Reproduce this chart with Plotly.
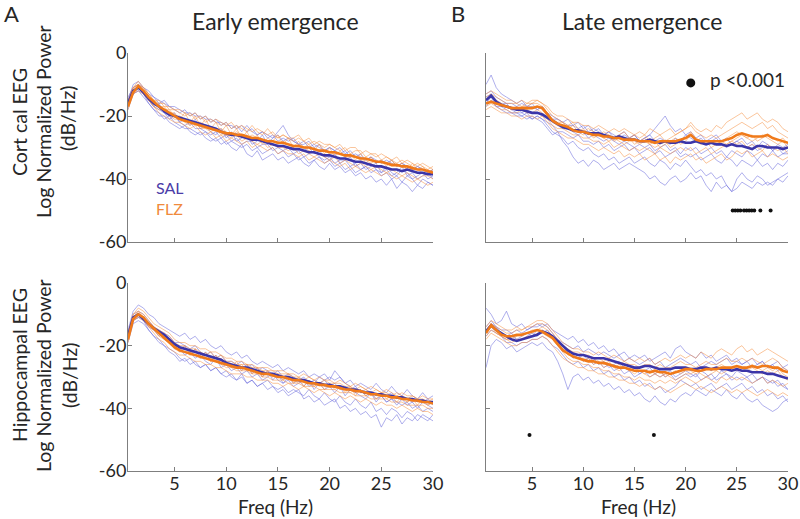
import plotly.graph_objects as go

# ---------------- data ----------------
FREQ = [0.5 * i for i in range(1, 61)]   # 0.5 ... 30 Hz

# Early emergence, cortical EEG (individual spectra, dB/Hz)
early_ctx_sal = [
    [-15,-11,-10,-11,-13,-14,-16,-15,-17,-18, -19,-18,-20,-19,-21,-20,-22,-21,-23,-22, -24,-23,-25,-23,-25,-26,-25,-27,-26,-28, -27,-28,-27,-29,-29,-28,-30,-29,-31,-30, -31,-30,-32,-31,-33,-32,-34,-33,-34,-35, -34,-35,-36,-35,-36,-37,-36,-37,-38,-37],
    [-18,-13,-12,-14,-16,-18,-20,-20,-22,-23, -24,-23,-25,-26,-25,-27,-28,-27,-29,-28, -30,-31,-29,-32,-33,-31,-34,-33,-32,-34, -33,-35,-34,-33,-35,-36,-34,-36,-37,-35, -37,-36,-38,-37,-39,-38,-40,-39,-41,-40, -42,-40,-43,-41,-42,-44,-42,-43,-41,-42],
    [-14,-11,-10,-12,-15,-17,-16,-19,-20,-19, -22,-21,-23,-21,-24,-23,-25,-26,-24,-27, -25,-28,-27,-26,-29,-28,-26,-29,-27,-25, -23,-26,-28,-29,-31,-30,-32,-31,-33,-34, -32,-35,-34,-33,-36,-35,-37,-36,-35,-38, -37,-39,-38,-36,-39,-38,-40,-39,-38,-40],
    [-17,-12,-11,-13,-15,-17,-18,-19,-21,-20, -22,-23,-22,-24,-24,-25,-26,-25,-27,-26, -28,-27,-29,-28,-28,-30,-29,-29,-31,-30, -31,-30,-32,-31,-33,-32,-31,-33,-34,-33, -35,-34,-34,-36,-35,-37,-36,-35,-37,-38, -36,-38,-39,-37,-38,-40,-39,-38,-40,-39],
    [-15,-10,-9,-11,-12,-14,-15,-16,-17,-17, -18,-19,-19,-20,-20,-21,-21,-22,-22,-23, -23,-24,-23,-25,-24,-26,-25,-26,-27,-26, -28,-27,-28,-29,-28,-30,-29,-30,-31,-30, -31,-32,-31,-33,-32,-33,-34,-33,-35,-34, -35,-34,-36,-35,-36,-37,-36,-37,-38,-37],
    [-16,-13,-12,-13,-16,-18,-19,-21,-20,-22, -23,-24,-24,-25,-26,-25,-27,-28,-27,-29, -28,-29,-30,-29,-31,-30,-32,-31,-30,-32, -31,-33,-32,-34,-33,-35,-34,-33,-35,-34, -36,-35,-37,-36,-38,-37,-36,-38,-37,-39, -38,-40,-39,-41,-39,-40,-42,-40,-41,-42],
]
early_ctx_flz = [
    [-15,-11,-9,-11,-13,-15,-15,-17,-17,-18, -18,-19,-20,-19,-21,-20,-22,-21,-22,-23, -22,-24,-23,-24,-25,-24,-25,-26,-25,-27, -26,-27,-27,-26,-28,-27,-29,-28,-29,-29, -30,-29,-31,-30,-30,-32,-31,-32,-33,-32, -33,-34,-33,-35,-34,-35,-36,-35,-36,-37],
    [-17,-13,-12,-13,-15,-17,-19,-20,-21,-22, -22,-23,-24,-23,-25,-26,-25,-27,-26,-28, -27,-28,-29,-28,-30,-29,-30,-31,-30,-32, -31,-32,-32,-33,-32,-34,-33,-34,-35,-34, -35,-36,-35,-37,-36,-37,-38,-37,-38,-39, -38,-39,-40,-39,-40,-41,-40,-41,-42,-41],
    [-16,-11,-10,-12,-14,-15,-17,-17,-19,-19, -21,-19,-22,-20,-23,-21,-24,-22,-25,-23, -26,-24,-27,-25,-28,-26,-29,-27,-28,-26, -29,-27,-30,-28,-30,-29,-31,-29,-32,-30, -33,-31,-33,-32,-34,-32,-35,-33,-35,-34, -36,-34,-36,-35,-37,-35,-37,-36,-38,-37],
    [-17,-12,-11,-12,-14,-16,-17,-18,-18,-20, -20,-21,-22,-22,-22,-23,-24,-24,-24,-25, -26,-25,-26,-27,-26,-27,-28,-28,-28,-29, -28,-29,-30,-29,-30,-31,-30,-31,-31,-32, -32,-32,-33,-33,-33,-34,-34,-35,-34,-35, -35,-36,-36,-36,-37,-37,-37,-38,-37,-38],
    [-16,-11,-10,-11,-13,-15,-16,-16,-18,-18, -19,-20,-19,-21,-20,-22,-21,-22,-23,-22, -24,-23,-24,-25,-23,-25,-26,-24,-26,-27, -26,-27,-28,-27,-28,-29,-28,-29,-30,-29, -30,-31,-30,-32,-31,-31,-33,-32,-32,-34, -33,-34,-35,-34,-35,-36,-35,-36,-37,-36],
    [-18,-12,-11,-13,-15,-17,-18,-18,-20,-21, -21,-22,-23,-22,-24,-24,-25,-24,-26,-26, -27,-26,-28,-27,-28,-29,-28,-30,-29,-30, -30,-31,-30,-32,-31,-32,-33,-32,-33,-34, -33,-35,-34,-35,-36,-35,-36,-37,-36,-37, -38,-37,-38,-39,-38,-39,-40,-39,-39,-40],
]
early_ctx_sal_mean = [
    -16, -12, -11, -12.5, -14.5, -16, -17, -18.5, -19.5, -20,
    -20.5, -21, -21.5, -22, -22.5, -23, -23.5, -24, -25, -25.5,
    -26, -26, -26.5, -27, -27.5, -27.5, -28, -28.5, -29, -29.5,
    -29.5, -30, -30.5, -30.5, -31, -31.5, -31.5, -32, -32.5, -32.5,
    -33, -33.5, -33.5, -34, -34.5, -34.5, -35, -35.5, -36, -36,
    -36.5, -37, -37, -37.5, -37, -37.5, -38, -38, -38.5, -38.5]
early_ctx_flz_mean = [
    -17, -12.5, -10.5, -12, -14, -15.5, -17, -18, -19, -20,
    -21, -21.5, -22, -22.5, -23, -23.5, -24, -24.5, -25, -25.5,
    -25.5, -26, -26, -26.5, -27, -27, -27.5, -28, -28, -28.5,
    -28.5, -29, -29.5, -29.5, -30, -30, -30.5, -31, -31, -31.5,
    -31.5, -32, -32.5, -32.5, -33, -33.5, -33.5, -34, -34.5, -34.5,
    -35, -35.5, -35.5, -36, -36, -36.5, -37, -37, -37.5, -38]

# Early emergence, hippocampal EEG
early_hip_sal = [
    [-15,-9,-7,-8,-10,-11,-13,-14,-15,-16, -17,-16,-18,-17,-19,-18,-20,-21,-20,-22, -23,-22,-24,-23,-25,-26,-25,-26,-27,-26, -28,-27,-28,-29,-28,-30,-29,-30,-31,-30, -31,-30,-32,-31,-33,-32,-33,-34,-32,-34, -35,-33,-35,-36,-34,-36,-37,-35,-37,-36],
    [-19,-13,-12,-13,-15,-17,-19,-20,-22,-23, -25,-24,-26,-25,-27,-26,-28,-27,-29,-28, -30,-31,-29,-32,-31,-33,-32,-34,-33,-35, -34,-36,-35,-34,-37,-36,-38,-37,-39,-38, -37,-40,-39,-41,-40,-42,-41,-43,-42,-46, -43,-44,-42,-45,-43,-44,-42,-43,-44,-42],
    [-17,-11,-10,-12,-14,-15,-17,-16,-19,-20, -22,-20,-23,-21,-24,-22,-25,-23,-26,-25, -27,-26,-28,-26,-29,-27,-30,-28,-31,-29, -32,-30,-32,-31,-33,-31,-34,-32,-34,-33, -35,-33,-36,-34,-35,-36,-37,-35,-38,-36, -38,-37,-39,-37,-39,-38,-40,-38,-39,-40],
    [-18,-12,-11,-12,-15,-17,-18,-20,-21,-22, -24,-25,-24,-26,-27,-26,-28,-27,-29,-30, -29,-31,-30,-32,-31,-33,-32,-31,-33,-34, -33,-35,-34,-35,-36,-34,-36,-37,-35,-37, -38,-36,-38,-39,-37,-39,-40,-38,-41,-40, -42,-40,-41,-43,-41,-42,-44,-42,-43,-44],
    [-16,-10,-9,-10,-12,-14,-15,-16,-17,-19, -19,-20,-21,-20,-22,-23,-22,-24,-23,-25, -25,-26,-25,-27,-26,-28,-27,-28,-29,-28, -30,-29,-30,-31,-30,-32,-31,-32,-31,-33, -32,-34,-33,-34,-33,-35,-34,-35,-36,-35, -36,-35,-37,-36,-37,-38,-37,-38,-37,-39],
    [-17,-12,-11,-11,-13,-15,-16,-18,-19,-21, -21,-23,-22,-24,-23,-25,-26,-24,-27,-26, -28,-27,-29,-28,-30,-29,-31,-30,-29,-31, -32,-31,-33,-32,-31,-33,-32,-30,-29,-31, -28,-30,-32,-33,-35,-34,-36,-35,-37,-36, -38,-37,-38,-39,-38,-40,-39,-41,-40,-41],
]
early_hip_flz = [
    [-16,-10,-8,-9,-11,-13,-14,-15,-16,-18, -19,-19,-20,-20,-21,-21,-22,-22,-23,-24, -24,-25,-25,-26,-26,-27,-27,-27,-28,-28, -28,-29,-29,-30,-29,-30,-31,-30,-31,-31, -32,-31,-32,-33,-32,-33,-34,-33,-34,-35, -34,-35,-36,-35,-36,-36,-37,-36,-37,-37],
    [-19,-12,-11,-12,-14,-16,-18,-19,-21,-22, -23,-23,-24,-25,-25,-26,-26,-27,-27,-28, -29,-29,-29,-30,-30,-31,-31,-31,-32,-32, -33,-32,-33,-34,-33,-34,-35,-34,-35,-36, -35,-36,-37,-36,-37,-38,-37,-38,-39,-38, -39,-39,-40,-39,-40,-41,-40,-41,-41,-42],
    [-17,-11,-9,-11,-13,-15,-16,-17,-18,-20, -21,-20,-23,-21,-24,-22,-25,-23,-26,-25, -27,-25,-28,-26,-29,-27,-30,-28,-30,-29, -31,-29,-32,-30,-33,-31,-33,-32,-34,-32, -34,-33,-35,-33,-36,-34,-36,-35,-37,-35, -37,-36,-38,-36,-38,-37,-39,-37,-39,-38],
    [-17,-10,-9,-10,-12,-14,-15,-16,-17,-19, -20,-20,-21,-21,-22,-23,-22,-24,-23,-25, -25,-26,-26,-26,-27,-27,-28,-28,-28,-29, -29,-29,-30,-30,-31,-30,-31,-32,-31,-32, -32,-32,-33,-33,-34,-33,-34,-35,-34,-35, -35,-36,-35,-36,-37,-36,-37,-37,-38,-37],
    [-18,-12,-10,-11,-14,-15,-17,-18,-19,-21, -22,-22,-23,-23,-24,-24,-25,-25,-26,-27, -27,-28,-28,-28,-29,-29,-30,-30,-31,-31, -31,-32,-32,-32,-33,-33,-33,-34,-34,-34, -34,-35,-35,-35,-36,-36,-36,-37,-37,-37, -37,-38,-38,-38,-39,-39,-39,-39,-40,-40],
    [-16,-11,-10,-11,-13,-14,-16,-17,-19,-19, -21,-21,-22,-23,-22,-24,-24,-25,-24,-26, -26,-27,-26,-28,-27,-29,-28,-29,-30,-29, -31,-30,-31,-32,-31,-32,-33,-32,-33,-33, -33,-34,-34,-35,-34,-35,-35,-36,-35,-36, -36,-37,-36,-37,-38,-37,-38,-38,-39,-38],
]
early_hip_sal_mean = [
    -17, -11, -10, -11.5, -13, -14.5, -15.5, -16.5, -18, -19.5,
    -20.5, -21, -21.5, -22, -22.5, -23, -23.5, -24, -24.5, -25.5,
    -26, -26.5, -27, -27, -27.5, -28, -28.5, -29, -29, -29.5,
    -30, -30, -30.5, -31, -31, -31.5, -32, -32, -32.5, -32.5,
    -33, -33, -33.5, -34, -34, -34.5, -35, -35, -35.5, -35.5,
    -36, -36, -36.5, -36.5, -37, -37, -37.5, -37.5, -38, -38]
early_hip_flz_mean = [
    -18, -11.5, -10, -11, -13, -14.5, -16, -17.5, -19, -20.5,
    -21.5, -22, -22.5, -23, -23.5, -24, -24.5, -25, -25.5, -26,
    -26.5, -27, -27, -27.5, -28, -28.5, -29, -29, -29.5, -30,
    -30, -30.5, -31, -31, -31.5, -32, -32, -32.5, -32.5, -33,
    -33, -33.5, -34, -34, -34.5, -34.5, -35, -35.5, -35.5, -36,
    -36, -36.5, -36.5, -37, -37, -37.5, -37.5, -38, -38, -38.5]

# Late emergence, cortical EEG
late_ctx_sal = [
    [-10,-7,-11,-13,-14,-15,-16,-15,-17,-16, -18,-17,-19,-20,-21,-22,-21,-23,-22,-24, -23,-25,-24,-26,-25,-27,-26,-25,-27,-26, -28,-27,-26,-24,-22,-20,-23,-25,-24,-26, -25,-27,-26,-28,-27,-26,-28,-27,-29,-28, -27,-29,-28,-30,-28,-29,-31,-29,-30,-29],
    [-16,-14,-17,-17,-18,-19,-19,-20,-21,-20, -21,-22,-24,-26,-25,-28,-30,-33,-35,-34, -36,-34,-35,-37,-36,-35,-37,-36,-35,-36, -37,-38,-40,-39,-41,-42,-40,-39,-41,-40, -38,-40,-39,-42,-44,-41,-43,-42,-44,-43, -41,-42,-43,-41,-42,-41,-42,-40,-39,-38],
    [-15,-13,-15,-17,-17,-18,-19,-19,-20,-21, -20,-21,-23,-25,-26,-27,-29,-28,-30,-31, -30,-32,-33,-32,-34,-33,-35,-34,-33,-35, -34,-33,-35,-36,-34,-35,-37,-35,-36,-34, -36,-38,-37,-39,-38,-40,-39,-42,-44,-40, -38,-40,-41,-39,-40,-42,-41,-40,-41,-39],
    [-14,-13,-15,-16,-16,-18,-17,-19,-18,-19, -19,-20,-21,-22,-23,-24,-24,-25,-26,-25, -27,-26,-27,-28,-27,-28,-29,-28,-29,-30, -29,-30,-29,-31,-30,-29,-31,-30,-32,-30, -31,-30,-32,-31,-30,-32,-31,-33,-31,-32, -33,-31,-32,-34,-32,-33,-31,-33,-32,-32],
    [-13,-12,-14,-15,-16,-16,-17,-16,-17,-17, -18,-17,-19,-21,-21,-22,-23,-23,-24,-23, -25,-24,-25,-26,-25,-26,-27,-26,-27,-26, -28,-27,-26,-28,-27,-28,-29,-27,-28,-26, -27,-28,-27,-29,-28,-27,-29,-30,-29,-28, -29,-30,-29,-31,-30,-29,-31,-30,-32,-31],
    [-17,-15,-17,-18,-19,-19,-20,-20,-19,-21, -20,-21,-22,-23,-25,-25,-26,-27,-26,-28, -28,-29,-28,-30,-29,-31,-30,-29,-31,-30, -32,-31,-30,-32,-31,-33,-32,-31,-33,-32, -33,-32,-34,-33,-32,-34,-35,-33,-34,-36, -34,-35,-36,-34,-36,-35,-37,-35,-36,-34],
]
late_ctx_flz = [
    [-13,-12,-13,-14,-15,-15,-16,-15,-16,-15, -15,-16,-17,-19,-20,-20,-21,-22,-22,-23, -23,-24,-23,-24,-25,-24,-25,-24,-25,-26, -25,-26,-24,-25,-26,-25,-24,-26,-25,-24, -22,-24,-25,-24,-25,-23,-24,-22,-21,-20, -19,-21,-20,-19,-21,-22,-21,-22,-24,-25],
    [-18,-17,-18,-19,-19,-20,-20,-21,-20,-20, -21,-20,-22,-24,-25,-26,-27,-27,-28,-29, -29,-30,-31,-30,-31,-32,-31,-33,-32,-33, -32,-34,-33,-32,-34,-33,-35,-33,-34,-33, -32,-34,-33,-35,-34,-33,-32,-34,-33,-31, -32,-31,-33,-32,-31,-33,-32,-33,-34,-33],
    [-15,-14,-15,-16,-17,-17,-18,-17,-17,-16, -16,-17,-19,-21,-22,-22,-24,-23,-25,-24, -26,-25,-26,-27,-26,-28,-27,-28,-27,-29, -28,-27,-29,-28,-30,-29,-28,-27,-29,-28, -26,-28,-29,-28,-30,-29,-28,-27,-26,-25, -26,-27,-26,-28,-27,-26,-27,-28,-27,-29],
    [-14,-13,-14,-15,-16,-16,-16,-17,-16,-16, -15,-16,-18,-20,-21,-22,-23,-22,-24,-25, -24,-25,-26,-25,-26,-27,-26,-25,-27,-26, -27,-26,-28,-27,-26,-28,-27,-26,-25,-24, -23,-25,-26,-27,-26,-27,-26,-25,-24,-23, -22,-23,-24,-23,-22,-24,-23,-25,-26,-27],
    [-17,-16,-17,-18,-18,-19,-19,-18,-19,-19, -18,-19,-21,-23,-24,-24,-25,-26,-26,-27, -27,-28,-28,-29,-28,-30,-29,-30,-31,-30, -31,-30,-31,-32,-30,-31,-32,-31,-30,-31, -30,-32,-31,-30,-32,-31,-30,-29,-28,-29, -28,-30,-29,-30,-31,-29,-30,-31,-30,-32],
    [-16,-15,-16,-17,-17,-18,-17,-18,-18,-17, -17,-18,-20,-22,-23,-23,-24,-25,-25,-26, -25,-27,-26,-27,-28,-27,-28,-29,-28,-28, -29,-28,-29,-30,-29,-28,-30,-29,-28,-27, -25,-27,-28,-29,-28,-29,-28,-29,-28,-27, -26,-27,-28,-27,-26,-27,-28,-29,-28,-30],
]
late_ctx_sal_mean = [
    -15, -13.5, -15.5, -16.5, -17, -17.5, -18, -18, -18.5, -19,
    -19, -19.5, -20.5, -21.5, -22.5, -23.5, -24, -24.5, -24.5, -25,
    -25.5, -25.5, -25.5, -26, -26.5, -27, -26.5, -27, -27.5, -27.5,
    -28, -28, -27.5, -28, -28.5, -28, -28.5, -28.5, -28, -28.5,
    -28.5, -28, -28.5, -29, -28.5, -29, -29, -29.5, -29, -29.5,
    -29.5, -30, -30.5, -29.5, -29.5, -30, -30, -30, -30.5, -30]
late_ctx_flz_mean = [
    -16, -15.5, -16, -16.5, -17, -17.5, -17.5, -17.5, -17.5, -17.5,
    -17, -17.5, -19.5, -21.5, -22.5, -23, -23.5, -24.5, -25, -25,
    -25.5, -26, -26, -26.5, -26.5, -27, -27, -27.5, -27.5, -27.5,
    -28, -28, -28, -28.5, -28, -28, -28, -28, -27.5, -27,
    -26, -27.5, -28, -28, -28, -28, -28, -27.5, -27, -26,
    -25.5, -26, -26.5, -26.5, -26.5, -26, -27, -27.5, -28, -28.5]

# Late emergence, hippocampal EEG
late_hip_sal = [
    [-8,-10,-13,-12,-9,-13,-14,-13,-15,-14, -13,-14,-13,-15,-16,-17,-18,-17,-19,-18, -20,-19,-21,-20,-22,-21,-23,-22,-24,-23, -24,-23,-25,-24,-23,-22,-24,-21,-20,-22, -23,-24,-22,-24,-23,-25,-24,-23,-25,-24, -26,-25,-24,-26,-25,-27,-26,-25,-27,-26],
    [-27,-20,-18,-19,-21,-20,-22,-21,-20,-19, -20,-19,-21,-22,-25,-29,-34,-30,-29,-31, -30,-32,-31,-33,-32,-34,-33,-35,-34,-36, -35,-37,-38,-36,-38,-39,-37,-38,-36,-35, -36,-34,-35,-36,-34,-35,-36,-34,-36,-37, -35,-37,-38,-37,-39,-40,-41,-40,-38,-37],
    [-15,-13,-14,-16,-17,-16,-18,-17,-16,-17, -15,-16,-15,-17,-19,-21,-22,-24,-23,-25, -24,-26,-25,-27,-26,-28,-27,-29,-28,-30, -29,-28,-30,-29,-28,-30,-29,-31,-30,-29, -30,-29,-31,-30,-29,-31,-30,-29,-31,-30, -31,-30,-32,-31,-30,-32,-31,-33,-32,-34],
    [-17,-15,-16,-17,-19,-19,-20,-19,-19,-18, -18,-17,-18,-20,-21,-23,-25,-26,-25,-27, -26,-28,-27,-29,-28,-30,-29,-31,-30,-32, -31,-33,-32,-34,-33,-35,-34,-33,-31,-32, -33,-32,-34,-33,-32,-34,-33,-32,-34,-33, -32,-34,-33,-35,-34,-36,-35,-37,-36,-38],
    [-14,-12,-14,-15,-15,-16,-15,-16,-15,-14, -14,-13,-14,-16,-18,-19,-20,-21,-20,-22, -21,-22,-23,-22,-23,-24,-23,-25,-24,-25, -26,-25,-24,-26,-25,-27,-26,-25,-24,-25, -26,-25,-27,-26,-25,-26,-25,-24,-26,-25, -26,-25,-27,-26,-25,-27,-26,-28,-27,-28],
    [-16,-14,-15,-17,-18,-17,-18,-18,-17,-16, -17,-15,-16,-18,-19,-22,-21,-23,-24,-23, -25,-24,-26,-25,-27,-26,-25,-27,-28,-27, -29,-28,-27,-29,-30,-29,-28,-30,-29,-28, -29,-30,-28,-29,-31,-30,-28,-29,-30,-28, -29,-30,-29,-31,-30,-31,-32,-31,-33,-34],
]
late_hip_flz = [
    [-14,-12,-13,-14,-15,-15,-14,-15,-14,-13, -12,-12,-13,-15,-17,-19,-20,-21,-21,-22, -22,-23,-22,-23,-24,-23,-24,-25,-24,-25, -24,-25,-24,-26,-25,-24,-25,-24,-23,-24, -23,-24,-22,-23,-24,-22,-21,-22,-23,-21, -20,-22,-21,-23,-22,-21,-22,-23,-24,-25],
    [-18,-16,-17,-18,-19,-20,-20,-19,-19,-18, -18,-17,-18,-20,-22,-24,-25,-26,-27,-27, -28,-28,-29,-29,-30,-30,-31,-31,-32,-32, -33,-32,-33,-34,-33,-34,-35,-34,-33,-32, -33,-34,-33,-34,-35,-34,-33,-34,-35,-34, -35,-34,-35,-36,-35,-34,-35,-36,-35,-36],
    [-16,-13,-15,-16,-17,-17,-17,-16,-16,-15, -15,-14,-15,-17,-19,-21,-22,-23,-24,-24, -25,-24,-25,-26,-25,-27,-26,-27,-28,-27, -28,-29,-28,-29,-28,-30,-29,-28,-29,-28, -28,-29,-28,-27,-28,-27,-26,-27,-28,-27, -28,-27,-26,-27,-28,-27,-28,-27,-29,-30],
    [-15,-13,-14,-15,-16,-16,-15,-15,-14,-14, -13,-13,-14,-16,-18,-20,-21,-22,-22,-23, -23,-24,-24,-25,-24,-25,-26,-25,-26,-26, -27,-26,-26,-27,-26,-27,-27,-26,-25,-26, -26,-27,-26,-25,-26,-26,-25,-24,-25,-25, -24,-25,-24,-25,-26,-25,-24,-25,-27,-28],
    [-17,-15,-16,-17,-18,-19,-18,-18,-17,-17, -16,-16,-17,-18,-20,-22,-24,-25,-25,-26, -26,-27,-27,-28,-28,-29,-29,-30,-30,-31, -30,-31,-31,-32,-31,-32,-31,-32,-31,-30, -31,-32,-31,-30,-31,-32,-30,-31,-30,-31, -30,-31,-32,-31,-30,-32,-31,-32,-33,-32],
    [-16,-14,-16,-17,-18,-18,-17,-17,-16,-16, -15,-15,-16,-18,-20,-21,-23,-23,-24,-25, -24,-26,-25,-27,-26,-27,-28,-27,-28,-29, -28,-29,-30,-29,-30,-29,-30,-31,-30,-29, -29,-28,-29,-30,-29,-28,-29,-28,-27,-28, -27,-28,-27,-28,-29,-28,-29,-28,-30,-31],
]
late_hip_sal_mean = [
    -15.5, -13.5, -15, -16, -17, -18, -18.5, -18, -17.5, -17,
    -16.5, -15.5, -16, -17, -18.5, -20, -21.5, -22.5, -23, -23,
    -23.5, -24, -24, -24, -24.5, -25, -25.5, -26, -26.5, -27,
    -27, -26.5, -26.5, -27, -27.5, -27.5, -27.5, -27, -27, -27,
    -27.5, -27.5, -27, -27, -27.5, -27, -27.5, -27.5, -28, -27.5,
    -28, -28, -28.5, -28.5, -28.5, -29, -29, -29.5, -30, -30.5]
late_hip_flz_mean = [
    -16, -13.5, -15, -16.5, -17, -17, -16.5, -16.5, -16, -15.5,
    -15, -15.5, -16.5, -17.5, -19.5, -21.5, -22.5, -23.5, -24, -24.5,
    -25, -25, -25.5, -25.5, -26, -26.5, -27, -27, -27.5, -28,
    -28, -28, -28.5, -28, -28.5, -28.5, -29, -28.5, -28, -27.5,
    -27.5, -28, -28, -27.5, -27.5, -27.5, -27, -27, -27, -26.5,
    -27, -27, -26.5, -27, -26.5, -26.5, -27, -27, -28, -28.5]

# significance markers (p < 0.001)
sig_late_ctx_freq = [24.6, 24.85, 25.1, 25.35, 25.7, 25.95, 26.2, 26.45, 26.7, 27.3, 28.3]
sig_late_ctx_level = -50
sig_late_hip_freq = [4.75, 16.9]
sig_late_hip_level = -48.5

x_ticks = [5, 10, 15, 20, 25, 30]
x_tick_text = ["5", "10", "15", "20", "25", "30"]
y_ticks = [0, -20, -40, -60]
y_tick_text = ["0", "-20", "-40", "-60"]

for grp in (early_ctx_sal, early_ctx_flz, early_hip_sal, early_hip_flz,
            late_ctx_sal, late_ctx_flz, late_hip_sal, late_hip_flz):
    for row in grp:
        assert len(row) == len(FREQ), len(row)
for m in (early_ctx_sal_mean, early_ctx_flz_mean, early_hip_sal_mean, early_hip_flz_mean,
          late_ctx_sal_mean, late_ctx_flz_mean, late_hip_sal_mean, late_hip_flz_mean):
    assert len(m) == len(FREQ), len(m)

# ---------------- styling ----------------
FONT = "Lato, 'Open Sans', sans-serif"
SAL_THIN = "rgba(110,110,220,0.55)"
FLZ_THIN = "rgba(245,150,75,0.55)"
SAL_MEAN = "#3b35a8"
FLZ_MEAN = "#f07a1a"
AXIS_COL = "#7f7f7f"
TXT = "#262626"

W, H = 800, 519
def px_x(a, b):
    return [a / W, b / W]
def px_y(top, bottom):
    return [(H - bottom) / H, (H - top) / H]

fig = go.Figure()

panels = [
    ("x", "y", early_ctx_sal, early_ctx_flz, early_ctx_sal_mean, early_ctx_flz_mean),
    ("x2", "y2", late_ctx_sal, late_ctx_flz, late_ctx_sal_mean, late_ctx_flz_mean),
    ("x3", "y3", early_hip_sal, early_hip_flz, early_hip_sal_mean, early_hip_flz_mean),
    ("x4", "y4", late_hip_sal, late_hip_flz, late_hip_sal_mean, late_hip_flz_mean),
]

for xa, ya, sal, flz, salm, flzm in panels:
    for row in sal:
        fig.add_trace(go.Scatter(x=FREQ, y=row, mode="lines", xaxis=xa, yaxis=ya,
                                 line=dict(color=SAL_THIN, width=1), showlegend=False, hoverinfo="skip"))
    for row in flz:
        fig.add_trace(go.Scatter(x=FREQ, y=row, mode="lines", xaxis=xa, yaxis=ya,
                                 line=dict(color=FLZ_THIN, width=1), showlegend=False, hoverinfo="skip"))
    fig.add_trace(go.Scatter(x=FREQ, y=salm, mode="lines", xaxis=xa, yaxis=ya,
                             line=dict(color=SAL_MEAN, width=2.6), showlegend=False))
    fig.add_trace(go.Scatter(x=FREQ, y=flzm, mode="lines", xaxis=xa, yaxis=ya,
                             line=dict(color=FLZ_MEAN, width=2.6), showlegend=False))

fig.add_trace(go.Scatter(x=sig_late_ctx_freq, y=[sig_late_ctx_level] * len(sig_late_ctx_freq),
                         mode="markers", xaxis="x2", yaxis="y2",
                         marker=dict(color="#111", size=4), showlegend=False))
fig.add_trace(go.Scatter(x=sig_late_hip_freq, y=[sig_late_hip_level] * len(sig_late_hip_freq),
                         mode="markers", xaxis="x4", yaxis="y4",
                         marker=dict(color="#111", size=4), showlegend=False))
fig.add_trace(go.Scatter(x=[20.5], y=[-9.5], mode="markers", xaxis="x2", yaxis="y2",
                         marker=dict(color="#111", size=9), showlegend=False))

axis_common = dict(showline=True, linecolor=AXIS_COL, linewidth=1, ticks="inside", ticklen=4,
                   tickcolor=AXIS_COL, showgrid=False, zeroline=False, automargin=False,
                   ticklabeloverflow="allow",
                   tickfont=dict(family=FONT, size=18, color=TXT))

xdom_L = px_x(128, 433)
xdom_R = px_x(486, 788)
ydom_T = px_y(53, 242)
ydom_B = px_y(283, 471)

xcommon = dict(range=[0.5, 30], tickvals=x_ticks, ticktext=x_tick_text, ticklabelstandoff=-4)
ycommon = dict(range=[-60, 0], tickvals=y_ticks, ticktext=y_tick_text, ticklabelstandoff=-3)

layout_axes = {
    "xaxis":  dict(domain=xdom_L, anchor="y",  showticklabels=False, **xcommon),
    "yaxis":  dict(domain=ydom_T, anchor="x",  showticklabels=True, **ycommon),
    "xaxis2": dict(domain=xdom_R, anchor="y2", showticklabels=False, **xcommon),
    "yaxis2": dict(domain=ydom_T, anchor="x2", showticklabels=False, **ycommon),
    "xaxis3": dict(domain=xdom_L, anchor="y3", showticklabels=True, **xcommon),
    "yaxis3": dict(domain=ydom_B, anchor="x3", showticklabels=True, **ycommon),
    "xaxis4": dict(domain=xdom_R, anchor="y4", showticklabels=True, **xcommon),
    "yaxis4": dict(domain=ydom_B, anchor="x4", showticklabels=False, **ycommon),
}
for k, v in layout_axes.items():
    d = dict(axis_common)
    d.update(v)
    layout_axes[k] = d

def ann(text, x, y, size, color=TXT, angle=0, xanchor="center", yanchor="middle"):
    return dict(text=text, x=x / W, y=1 - y / H, xref="paper", yref="paper", showarrow=False,
                textangle=angle, xanchor=xanchor, yanchor=yanchor,
                font=dict(family=FONT, size=size, color=color))

annotations = [
    ann("A", 2, 13, 22, xanchor="left"),
    ann("B", 449, 13, 22, xanchor="left"),
    ann("Early emergence", 275, 21, 23),
    ann("Late emergence", 642, 21, 23),
    ann("Cort cal EEG", 19, 122, 19.5, angle=-90),
    ann("Log Normalized Power", 43, 122, 19.5, angle=-90),
    ann("(dB/Hz)", 68, 118, 19.5, angle=-90),
    ann("Hippocampal EEG", 19, 365, 19.5, angle=-90),
    ann("Log Normalized Power", 43, 376, 19.5, angle=-90),
    ann("(dB/Hz)", 69, 375, 19.5, angle=-90),
    ann("Freq (Hz)", 275, 506, 19),
    ann("Freq (Hz)", 638, 506, 19),
    ann("SAL", 154, 188, 16, color="#4b3ca8", xanchor="left"),
    ann("FLZ", 154, 208, 16, color="#f08a3c", xanchor="left"),
    ann("p <0.001", 708, 80, 19, xanchor="left"),
]

fig.update_layout(width=W, height=H, autosize=False, margin=dict(l=0, r=0, t=0, b=0, autoexpand=False),
                  paper_bgcolor="white", plot_bgcolor="white", showlegend=False,
                  annotations=annotations, **layout_axes)

fig.write_html("out.html",
               config={"displayModeBar": False, "staticPlot": True},
               post_script="document.body.style.margin='0px';document.body.style.padding='0px';")
